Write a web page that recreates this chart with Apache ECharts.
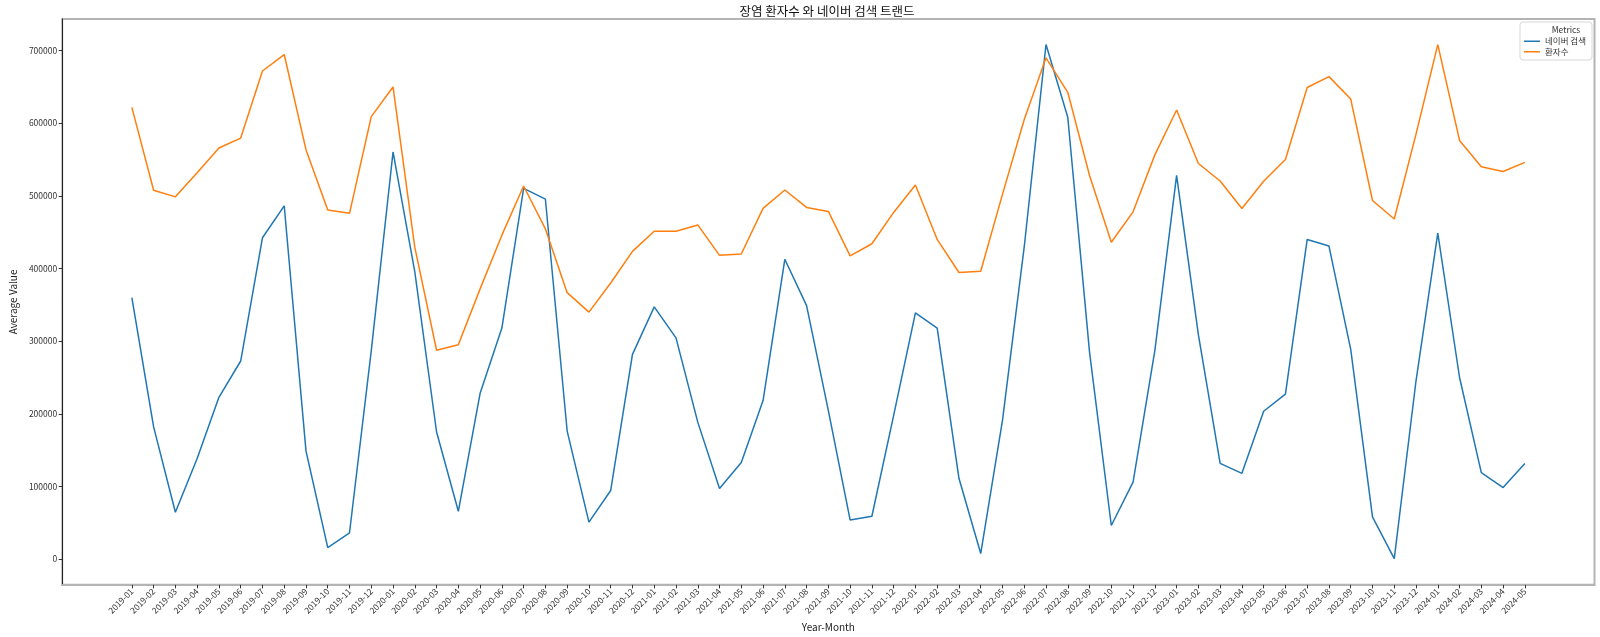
<!DOCTYPE html>
<html>
<head>
<meta charset="utf-8">
<script src="https://cdn.jsdelivr.net/npm/echarts@6/dist/echarts.min.js"></script>
<style>html,body{margin:0;padding:0;background:#fff}#c{width:1600px;height:637px}</style>
</head>
<body>
<div id="c"></div>
<script>
const months = ["2019-01","2019-02","2019-03","2019-04","2019-05","2019-06","2019-07","2019-08","2019-09","2019-10","2019-11","2019-12",
"2020-01","2020-02","2020-03","2020-04","2020-05","2020-06","2020-07","2020-08","2020-09","2020-10","2020-11","2020-12",
"2021-01","2021-02","2021-03","2021-04","2021-05","2021-06","2021-07","2021-08","2021-09","2021-10","2021-11","2021-12",
"2022-01","2022-02","2022-03","2022-04","2022-05","2022-06","2022-07","2022-08","2022-09","2022-10","2022-11","2022-12",
"2023-01","2023-02","2023-03","2023-04","2023-05","2023-06","2023-07","2023-08","2023-09","2023-10","2023-11","2023-12",
"2024-01","2024-02","2024-03","2024-04","2024-05"];
const naverSearch = [360000,182000,64500,138600,222700,272700,442300,486300,149000,15800,36300,287000,
560400,395500,175000,65900,228200,318100,510400,495400,176300,50900,94500,281800,
347200,304500,188600,97200,133100,218200,412700,349000,204500,54000,59000,198000,
339000,318100,111300,7700,190900,430000,708200,608200,285000,46300,105900,287000,
528200,309000,131800,118100,203600,227200,440000,430900,288600,58100,800,245500,
448600,250000,119000,98600,131800];
const patients = [621800,507700,498600,531800,565900,579500,671800,694500,563600,480400,475900,609000,
649900,429000,287500,295000,372000,445900,513600,454500,366800,340000,380000,423600,
451300,451300,460000,418100,420000,482700,508100,484100,478600,417300,434100,477200,
514900,440000,394500,396300,502000,605000,690000,642500,528000,436200,478000,556400,
618200,544500,520400,482700,520000,550000,649100,664100,633200,493600,468200,585000,
708200,576300,540000,533600,546000];
const yTicks = [0,100000,200000,300000,400000,500000,600000,700000];
const seriesNames = ["네이버 검색","환자수"];

const xIdx = months.map((m,i)=>i);
const font = "'Noto Sans CJK KR', 'Noto Sans', sans-serif";
const chart = echarts.init(document.getElementById('c'), null, {renderer:'canvas'});
chart.setOption({
  animation:false,
  backgroundColor:'#ffffff',
  title:[
    {text:'장염 환자수 와 네이버 검색 트랜드', left:822, textAlign:'center', top:0,
     textStyle:{fontFamily:font, fontSize:12.5, fontWeight:'normal', color:'#111'}},
    {text:'Metrics', left:1561, textAlign:'center', top:21,
     textStyle:{fontFamily:font, fontSize:8.5, fontWeight:'normal', color:'#333'}}
  ],
  legend:{
    orient:'vertical', right:8, top:22,
    padding:[15,6,4,4], itemGap:2,
    borderColor:'#d8d8d8', borderWidth:1, borderRadius:3,
    icon:'rect', itemWidth:16, itemHeight:1.5,
    textStyle:{fontFamily:font, fontSize:8.5, color:'#333'},
    data:seriesNames
  },
  grid:{left:49.5, right:5.5, top:19, bottom:48.3, show:true, borderColor:'#b4b4b4', borderWidth:2, containLabel:false},
  xAxis:{
    type:'value', min:-3.2, max:67.2,
    name:'Year-Month', nameLocation:'middle', nameGap:32,
    nameTextStyle:{fontFamily:font, fontSize:10, color:'#222'},
    axisLine:{show:true, onZero:false, lineStyle:{color:'#b4b4b4', width:2}},
    axisTick:{show:true, customValues:xIdx, length:3.5, lineStyle:{color:'#333'}},
    axisLabel:{customValues:xIdx, rotate:45, fontFamily:font, fontSize:8.5, color:'#333', margin:5,
      formatter:(v)=>months[Math.round(v)]},
    splitLine:{show:false}
  },
  yAxis:{
    type:'value', min:-35400, max:743400,
    name:'Average Value', nameLocation:'middle', nameGap:39,
    nameTextStyle:{fontFamily:font, fontSize:10, color:'#222'},
    axisLine:{show:true, onZero:false, lineStyle:{color:'#222', width:1}},
    axisTick:{show:true, customValues:yTicks, length:3.5, lineStyle:{color:'#333'}},
    axisLabel:{customValues:yTicks, fontFamily:font, fontSize:8.5, color:'#333', margin:5,
      formatter:(v)=>String(v)},
    splitLine:{show:false}
  },
  series:[
    {name:seriesNames[0], type:'line', showSymbol:false, symbol:'none',
     data:naverSearch.map((v,i)=>[i,v]), lineStyle:{color:'#1f77b4', width:1.5}, itemStyle:{color:'#1f77b4'}},
    {name:seriesNames[1], type:'line', showSymbol:false, symbol:'none',
     data:patients.map((v,i)=>[i,v]), lineStyle:{color:'#ff7f0e', width:1.5}, itemStyle:{color:'#ff7f0e'}}
  ]
});
</script>
</body>
</html>
